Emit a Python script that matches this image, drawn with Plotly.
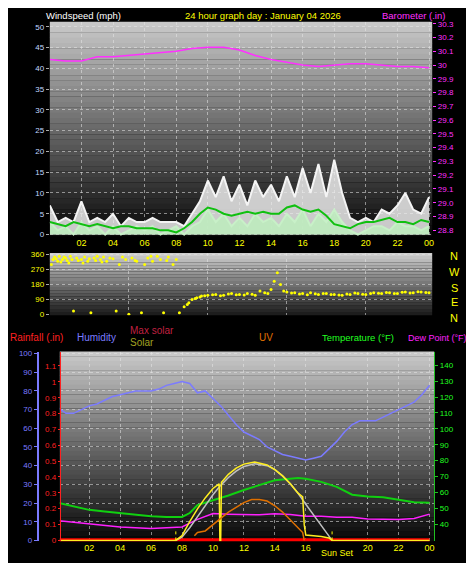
import numpy as np
import plotly.graph_objects as go

hours = [i * 0.5 for i in range(49)]
tick_hours = [2, 4, 6, 8, 10, 12, 14, 16, 18, 20, 22, 24]
tick_text = ["02", "04", "06", "08", "10", "12", "14", "16", "18", "20", "22", "00"]

wind_gust = [7, 3, 4, 3, 8, 3, 4, 3, 5, 2, 4, 3, 3, 4, 3, 3, 3, 2, 5, 8, 13, 9, 14, 8, 12, 7, 13, 9, 12, 8, 14, 9, 16, 10, 17, 9, 18, 10, 4, 3, 4, 3, 6, 5, 7, 10, 6, 5, 9]
wind_speed = [3, 1, 2, 0, 3, 1, 2, 0, 2, 0, 1, 2, 1, 2, 0, 1, 2, 0, 2, 3, 6, 3, 5, 2, 4, 2, 5, 3, 4, 2, 5, 3, 6, 2, 5, 3, 6, 3, 1, 0, 1, 2, 2, 1, 3, 2, 2, 1, 2]
wind_avg = [3, 2.5, 2, 3, 2.5, 2, 2.5, 2, 1.5, 2, 2, 1.5, 1.5, 1.5, 1, 1, 0.5, 1.5, 3, 5, 6.5, 6, 5, 4.5, 5, 5.5, 5, 5.5, 5, 5, 6.5, 7, 6, 5.5, 6, 4.5, 2.5, 2, 1.5, 2.5, 3, 3, 3.5, 4, 3, 3, 2.5, 3.5, 3]

baro_hours = list(range(25))
baro = [30.04, 30.03, 30.03, 30.06, 30.06, 30.07, 30.08, 30.09, 30.10, 30.12, 30.13, 30.13, 30.11, 30.07, 30.04, 30.02, 30.00, 29.99, 30.00, 30.01, 30.01, 30.00, 29.99, 29.99, 29.98]

dir_hours = [0.1, 0.2, 0.3, 0.4, 0.5, 0.6, 0.7, 0.8, 0.9, 1.0, 1.1, 1.2, 1.3, 1.4, 1.5, 1.7, 1.8, 2.0, 2.1, 2.2, 2.4, 2.5, 2.6, 2.8, 2.9, 3.0, 3.2, 3.3, 3.4, 3.6, 3.8, 4.0, 4.2, 4.4, 4.6, 4.8, 5.0, 5.2, 5.4, 5.5, 5.8, 6.0, 6.2, 6.4, 6.5, 6.8, 7.0, 7.2, 7.4, 7.5, 7.8, 8.0, 8.2, 8.5, 8.7, 8.8, 9.0, 9.2, 9.3, 9.5, 9.6, 9.8, 10.0, 10.3, 10.5, 10.8, 11.0, 11.3, 11.5, 11.8, 12.0, 12.3, 12.5, 12.8, 13.0, 13.3, 13.6, 13.8, 14.0, 14.2, 14.4, 14.6, 14.8, 15.0, 15.3, 15.5, 15.8, 16.0, 16.3, 16.5, 16.8, 17.0, 17.3, 17.5, 17.8, 18.0, 18.3, 18.5, 18.8, 19.0, 19.3, 19.5, 19.8, 20.0, 20.3, 20.5, 20.8, 21.0, 21.3, 21.5, 21.8, 22.0, 22.3, 22.5, 22.8, 23.0, 23.3, 23.5, 23.8, 24.0]
dir_deg = [300, 330, 345, 335, 320, 350, 315, 330, 345, 340, 325, 310, 350, 330, 20, 340, 325, 330, 310, 345, 320, 335, 10, 340, 325, 350, 330, 315, 345, 320, 340, 335, 20, 300, 345, 330, 0, 340, 325, 320, 10, 300, 340, 350, 320, 350, 330, 10, 325, 345, 300, 330, 10, 45, 60, 70, 90, 95, 100, 105, 110, 112, 115, 118, 120, 112, 115, 122, 125, 118, 120, 116, 125, 121, 115, 140, 130, 125, 150, 200, 250, 180, 140, 135, 128, 130, 122, 125, 118, 130, 124, 120, 126, 125, 119, 120, 117, 115, 122, 120, 128, 125, 121, 120, 126, 130, 127, 125, 132, 130, 126, 125, 133, 135, 128, 130, 136, 135, 131, 130]

hum = [71, 68, 68, 70, 72, 73, 75, 77, 78, 79, 80, 80, 80, 81, 83, 84, 85, 84, 79, 80, 76, 72, 67, 62, 58, 56, 54, 50, 48, 46, 45, 44, 43, 44, 45, 49, 53, 58, 62, 64, 64, 64, 66, 68, 70, 72, 74, 78, 83]
temp_hours = [0, 1, 2, 3, 4, 5, 6, 7, 8, 8.5, 9, 10, 11, 12, 13, 14, 15, 15.5, 16, 17, 18, 19, 20, 21, 22, 23, 24]
temp = [53.4, 51, 49, 48, 47, 46, 45, 44.5, 44.5, 47, 52, 55, 58, 61.5, 64.5, 67.6, 68.6, 69, 68.6, 66.6, 63.5, 58.5, 57.4, 57, 55.4, 53.8, 53.4]
dew_hours = [0, 2, 4, 6, 8, 9, 10, 11, 12, 13, 14, 15, 16, 17, 18, 19, 20, 21, 22, 23, 24]
dew = [42.2, 40.2, 38.2, 37.2, 38.2, 43, 46.7, 46.3, 46, 45.9, 46.5, 46, 45, 45, 44.3, 44.3, 43.2, 43, 43, 43.6, 46.3]

solar_hours = [0, 7.6, 8, 8.5, 9, 9.5, 10, 10.4, 10.45, 10.5, 10.55, 11, 11.5, 12, 12.7, 13.5, 14, 14.5, 15, 15.5, 15.8, 15.9, 16, 16.5, 17, 17.5, 17.7, 24]
solar = [0, 0, 30, 120, 200, 270, 330, 360, 0, 0, 370, 420, 460, 485, 499, 480, 450, 410, 360, 300, 277, 100, 34, 30, 25, 15, 0, 0]
maxsolar_hours = [7.6, 8, 8.5, 9, 9.5, 10, 10.5, 11, 11.5, 12, 12.7, 13.5, 14, 14.5, 15, 15.5, 16, 16.5, 17, 17.7]
maxsolar = [0, 20, 80, 150, 220, 290, 350, 400, 440, 470, 488, 475, 450, 410, 360, 300, 230, 160, 90, 0]
uv_hours = [8.8, 9, 9.5, 10, 10.5, 11, 11.5, 12, 12.5, 13, 13.5, 14, 14.5, 15, 15.5, 15.8, 15.9]
uv = [0.3, 0.5, 0.6, 1.0, 1.4, 1.8, 2.1, 2.4, 2.6, 2.6, 2.5, 2.2, 1.8, 1.3, 0.8, 0.5, 0]
rain_hours = [0, 24]
rain = [0, 0]
sunrise, sunset = 7.6, 17.7

fig = go.Figure()
F = "Liberation Sans"

fig.add_trace(go.Scatter(x=hours, y=wind_gust, mode="lines", line=dict(color="#f4f4f4", width=2), fill="tozeroy", fillcolor="rgba(235,235,235,0.85)", xaxis="x", yaxis="y"))
fig.add_trace(go.Scatter(x=hours, y=wind_speed, mode="lines", line=dict(color="#c8f0c8", width=2), fill="tozeroy", fillcolor="rgba(190,235,190,0.9)", xaxis="x", yaxis="y"))
fig.add_trace(go.Scatter(x=hours, y=wind_avg, mode="lines", line=dict(color="#10c010", width=2), xaxis="x", yaxis="y"))
fig.add_trace(go.Scatter(x=baro_hours, y=baro, mode="lines", line=dict(color="#ff30ff", width=1.5), xaxis="x", yaxis="y2"))
fig.add_trace(go.Scatter(x=dir_hours, y=dir_deg, mode="markers", marker=dict(color="#ffff00", size=3), xaxis="x3", yaxis="y3"))
fig.add_trace(go.Scatter(x=hours, y=hum, mode="lines", line=dict(color="#7b7bff", width=1.5), xaxis="x4", yaxis="y4"))
fig.add_trace(go.Scatter(x=temp_hours, y=temp, mode="lines", line=dict(color="#10d010", width=2), xaxis="x4", yaxis="y6"))
fig.add_trace(go.Scatter(x=dew_hours, y=dew, mode="lines", line=dict(color="#ff20ff", width=1.5), xaxis="x4", yaxis="y6"))
fig.add_trace(go.Scatter(x=rain_hours, y=rain, mode="lines", line=dict(color="#ff0000", width=4), xaxis="x4", yaxis="y5"))
fig.add_trace(go.Scatter(x=maxsolar_hours, y=maxsolar, mode="lines", line=dict(color="#c0c0c0", width=1.5), xaxis="x4", yaxis="y7"))
fig.add_trace(go.Scatter(x=uv_hours, y=uv, mode="lines", line=dict(color="#e07000", width=1.5), xaxis="x4", yaxis="y8"))
fig.add_trace(go.Scatter(x=solar_hours, y=solar, mode="lines", line=dict(color="#ffee20", width=1.5), xaxis="x4", yaxis="y7"))
fig.add_trace(go.Scatter(x=[sunrise, sunrise, None, sunset, sunset], y=[0, 60, None, 0, 60], mode="lines", line=dict(color="#ffff00", width=1, dash="dot"), xaxis="x4", yaxis="y7"))

H = 563.0
def dy(top, bot):
    return [1 - bot / H, 1 - top / H]

grid = dict(showgrid=True, gridcolor="rgba(230,230,230,0.55)", griddash="dot", gridwidth=1, zeroline=False)
xt = dict(tickvals=tick_hours, ticktext=tick_text, tickfont=dict(color="#ffff00", size=9, family=F), ticks="", **grid)

fig.update_layout(
    width=474, height=563, margin=dict(l=0, r=0, t=0, b=0),
    paper_bgcolor="black", plot_bgcolor="rgba(0,0,0,0)", showlegend=False,
    xaxis=dict(domain=[42/474, 426/474], range=[0, 24.2], anchor="y", **xt),
    yaxis=dict(domain=dy(11, 228), range=[-0.4, 51.2], tickvals=list(range(0, 51, 5)), tickfont=dict(color="#c0d8ff", size=8, family=F), ticks="outside", tickcolor="#aaaaaa", ticklen=3, **grid),
    yaxis2=dict(overlaying="y", side="right", anchor="x", range=[28.757, 30.314], tickvals=[28.8 + 0.1 * i for i in range(16)], ticktext=["%.1f" % (28.8 + 0.1 * i) if i != 12 else "30" for i in range(16)], tickfont=dict(color="#ff30ff", size=8, family=F), ticks="outside", tickcolor="#ff30ff", ticklen=3, showgrid=False, zeroline=False),
    xaxis3=dict(domain=[42/474, 426/474], range=[0, 24.2], anchor="y3", showticklabels=False, **grid),
    yaxis3=dict(domain=dy(245, 308), range=[-5, 370], tickvals=[0, 90, 180, 270, 360], tickfont=dict(color="#ffff00", size=8, family=F), ticks="outside", tickcolor="#aaaaaa", ticklen=3, **grid),
    xaxis4=dict(domain=[52/474, 428/474], range=[0.1, 24.3], anchor="y4", **{**xt, "tickvals": [2, 4, 6, 8, 10, 12, 14, 16, 20, 22, 24], "ticktext": ["02", "04", "06", "08", "10", "12", "14", "16", "20", "22", "00"]}),
    yaxis4=dict(domain=dy(345, 537), range=[-0.5, 101], anchor="free", position=30/474, tickvals=list(range(0, 101, 10)), tickfont=dict(color="#7b7bff", size=8, family=F), showline=True, linecolor="#7b7bff", linewidth=2, ticks="outside", tickcolor="#7b7bff", ticklen=3, **grid),
    yaxis5=dict(overlaying="y4", anchor="free", position=52/474, side="left", range=[-0.006, 1.19], tickvals=[round(0.1 * i, 1) for i in range(12)], ticktext=["0", "0.1", "0.2", "0.3", "0.4", "0.5", "0.6", "0.7", "0.8", "0.9", "1", "1.1"], tickfont=dict(color="#ff2020", size=8, family=F), showline=True, linecolor="#ff2020", linewidth=1, showgrid=False, zeroline=False, ticks="outside", tickcolor="#ff2020", ticklen=2),
    yaxis6=dict(overlaying="y4", anchor="x4", side="right", range=[29.2, 148.5], tickvals=list(range(40, 141, 10)), tickfont=dict(color="#20ff20", size=8, family=F), showline=True, linecolor="#20c020", ticks="outside", tickcolor="#20c020", ticklen=3, showgrid=False, zeroline=False),
    yaxis7=dict(overlaying="y4", anchor="x4", range=[-6, 1200], visible=False),
    yaxis8=dict(overlaying="y4", anchor="x4", range=[-0.06, 12], visible=False),
)

def gradient(xr, yr, top, bot, n=40):
    for i in range(n):
        f = i / n
        c = [int(top[k] + (bot[k] - top[k]) * f) for k in range(3)]
        fig.add_shape(type="rect", xref=xr + " domain", yref=yr + " domain", x0=0, x1=1, y0=1 - (i + 1) / n, y1=1 - i / n + 0.001,
                      fillcolor="rgb(%d,%d,%d)" % tuple(c), line=dict(width=0), layer="below")

gradient("x", "y", (200, 200, 200), (5, 5, 5))
gradient("x3", "y3", (205, 205, 205), (20, 20, 20), 20)
gradient("x4", "y4", (200, 200, 200), (5, 5, 5))

def ann(x, y, text, color, xanchor="left", size=10):
    fig.add_annotation(x=x / 474, y=1 - y / H, xref="paper", yref="paper", text=text, showarrow=False,
                       font=dict(color=color, size=size, family=F), xanchor=xanchor, yanchor="middle")

ann(36, 4.5, "Windspeed (mph)", "#ffffff", size=9.5)
ann(176, 4.5, "24 hour graph day : January 04 2026", "#ffff00", size=9.5)
ann(374, 4.5, "Barometer (.in)", "#ff30ff", size=9.5)
for t, yy in zip(["N", "W", "S", "E", "N"], [248, 264, 280, 295, 311]):
    ann(448, yy, t, "#ffff00", "center", 11)
ann(0, 331, "Rainfall (.in)", "#ff2020")
ann(67, 331, "Humidity", "#7b7bff")
ann(121, 324, "Max solar", "#c02040")
ann(121, 336, "Solar", "#a0a020")
ann(250, 331, "UV", "#e07000")
ann(313, 331, "Temperature (°F)", "#20ff20", size=9.5)
ann(400, 331, "Dew Point (°F)", "#ff20ff", size=9)
ann(331, 549, "Sun Set", "#ffff00", "center", 9)

fig.write_html("out.html")
